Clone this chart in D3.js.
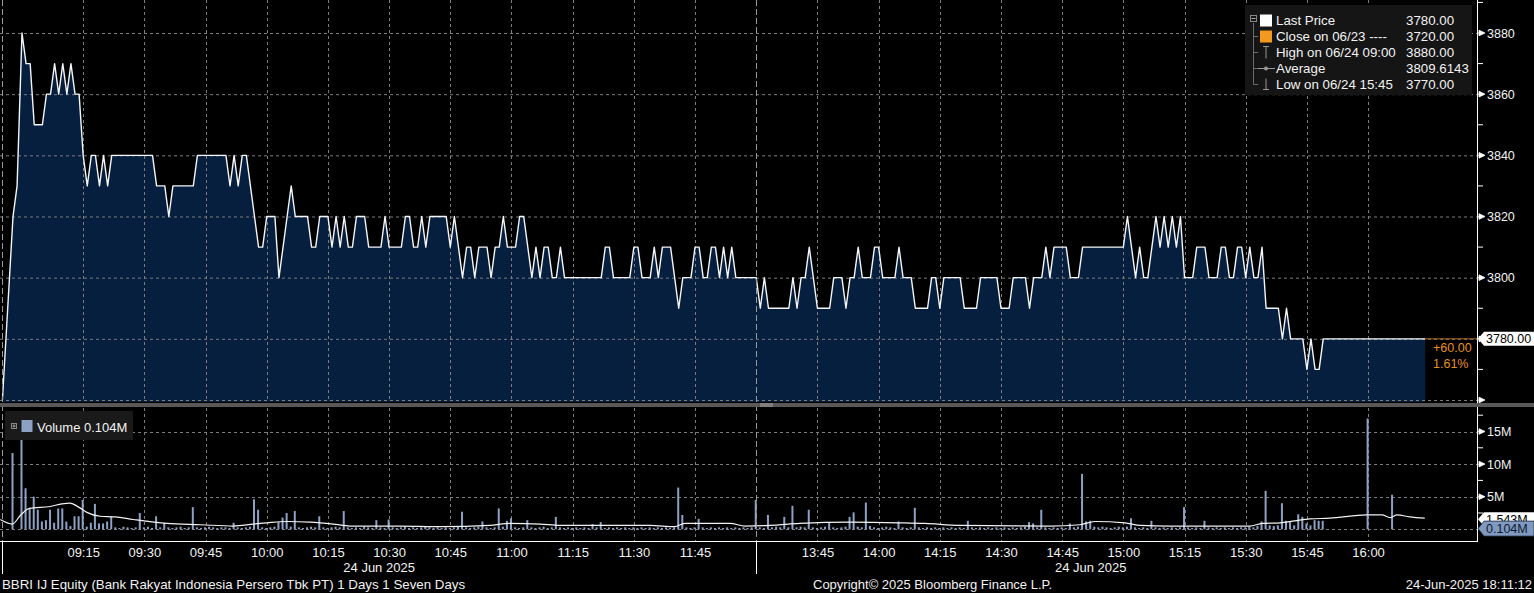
<!DOCTYPE html>
<html><head><meta charset="utf-8">
<script src="https://cdn.jsdelivr.net/npm/d3@7"></script>
<style>html,body{margin:0;padding:0;background:#000;overflow:hidden} svg{display:block}</style>
</head><body>
<svg id="c" width="1534" height="593"></svg>
<script>
// ---------------- DATA ----------------
// trading-minute index: 0 = 09:00, 180 = 12:00 / 13:30 (lunch collapsed), 330 = 16:00
const preOpenIdx   = [-4.8, -2.2, -1.2];
const preOpenPrice = [3760, 3820, 3830];
const price = [
 3880,3870,3870,3850,3850,3850,3860,3860,3870,3860,3870,3860,3870,3860,3860,
 3840,3830,3840,3840,3830,3840,3830,3840,3840,3840,3840,3840,3840,3840,3840,
 3840,3840,3840,3830,3830,3830,3820,3830,3830,3830,3830,3830,3830,3840,3840,
 3840,3840,3840,3840,3840,3840,3830,3840,3830,3840,3840,3830,3820,3810,3810,
 3820,3820,3820,3800,3810,3820,3830,3820,3820,3820,3820,3810,3810,3820,3820,
 3820,3810,3820,3810,3820,3810,3810,3820,3820,3820,3810,3810,3810,3810,3820,
 3810,3810,3810,3810,3820,3820,3810,3810,3820,3810,3820,3820,3820,3820,3820,
 3810,3820,3810,3800,3810,3810,3800,3810,3810,3810,3800,3810,3810,3820,3810,
 3810,3810,3820,3820,3810,3800,3810,3800,3810,3810,3800,3800,3810,3800,3800,
 3800,3800,3800,3800,3800,3800,3800,3800,3810,3810,3800,3800,3800,3800,3800,
 3810,3810,3800,3800,3800,3810,3800,3810,3810,3810,3800,3790,3800,3800,3800,
 3810,3810,3800,3800,3810,3810,3800,3810,3800,3810,3800,3800,3800,3800,3800,
 3800,3790,3800,3790,3790,3790,3790,3790,3790,3800,3790,3800,3800,3810,3800,
 3790,3790,3790,3790,3800,3800,3800,3790,3800,3800,3810,3800,3800,3800,3810,
 3810,3800,3800,3800,3800,3810,3800,3800,3800,3790,3790,3790,3790,3800,3800,
 3790,3800,3800,3800,3800,3800,3790,3790,3790,3790,3800,3800,3800,3800,3800,
 3790,3790,3790,3800,3800,3800,3800,3790,3800,3800,3800,3810,3800,3810,3810,
 3810,3810,3800,3800,3800,3810,3810,3810,3810,3810,3810,3810,3810,3810,3810,
 3810,3820,3810,3800,3810,3800,3800,3810,3820,3810,3820,3810,3820,3810,3820,
 3800,3800,3800,3810,3810,3810,3800,3800,3800,3810,3810,3800,3800,3810,3810,
 3800,3810,3800,3800,3810,3790,3790,3790,3790,3780,3790,3780,3780,3780,3780,
 3770,3780,3770,3770,3780,3780,3780,3780,3780,3780,3780,3780,3780,3780,3780,
 3780,3780,3780,3780,3780,3780,3780,3780,3780,3780,3780,3780,3780,3780,3780
];
// volume in millions of shares per minute
const volPreIdx = [-2.2];
const volPre    = [11.7];
const volume = [
 17.8,6.3,3.2,5.0,3.0,1.2,1.4,3.0,1.0,3.2,3.2,1.2,0.5,2.0,2.0,
 4.5,0.4,1.0,3.9,0.9,0.9,1.2,2.0,0.3,0.2,0.4,0.3,0.2,0.3,2.5,
 0.3,0.4,0.2,2.0,0.3,1.0,0.3,0.2,0.3,0.4,0.2,0.3,3.4,0.3,0.2,
 0.3,0.4,0.3,0.2,0.3,0.3,0.2,1.0,0.3,0.2,0.3,0.4,4.6,3.0,0.3,
 0.2,0.3,0.4,1.1,1.8,2.5,0.4,2.8,0.3,0.2,0.3,0.4,0.3,2.0,0.3,
 0.2,0.3,0.4,0.3,2.8,0.3,0.2,0.3,0.2,0.4,0.3,0.2,1.4,0.3,0.2,
 1.5,0.3,0.2,0.3,0.4,0.2,0.3,0.2,0.3,0.4,0.3,0.2,0.3,0.2,0.3,
 0.2,0.3,0.4,2.7,0.3,0.2,0.3,0.4,1.2,0.3,0.2,0.3,3.2,0.4,1.3,
 1.7,0.3,0.2,0.3,1.4,0.3,0.2,0.3,0.4,0.2,0.3,1.9,0.3,0.2,0.3,
 0.2,0.3,0.2,0.3,0.2,0.8,0.3,1.1,0.2,0.3,0.2,0.3,0.2,0.3,0.2,
 0.3,0.2,0.3,0.2,0.3,0.2,0.3,0.2,0.3,0.2,0.3,6.4,2.2,0.3,0.2,
 0.3,1.6,0.3,0.2,0.3,0.2,0.3,0.2,0.3,0.2,0.3,0.2,0.3,0.2,0.3,
 4.5,0.3,0.2,2.2,0.3,0.4,0.3,1.9,0.3,3.6,0.3,0.4,0.3,3.0,0.3,
 0.2,0.3,0.4,1.1,0.3,0.2,0.3,0.4,1.9,2.6,0.4,0.3,4.1,0.5,0.3,
 0.2,0.3,0.4,0.3,0.2,1.2,0.3,0.2,0.3,3.3,0.3,0.2,0.3,0.2,0.3,
 0.2,0.3,0.2,0.3,0.2,0.3,0.2,1.3,0.3,0.2,0.3,0.2,0.3,0.2,0.3,
 0.2,0.3,0.2,0.3,0.2,0.3,0.4,1.1,0.9,0.3,3.0,0.3,0.2,0.3,0.2,
 0.3,0.2,0.9,0.3,0.4,8.5,1.2,1.3,0.4,0.3,0.4,0.3,0.2,0.3,0.4,
 0.3,0.4,1.7,0.3,0.2,0.3,0.2,1.3,0.3,0.2,0.3,0.2,0.3,0.2,0.3,
 3.4,0.3,0.2,0.3,0.2,1.3,0.3,0.2,0.3,0.2,0.3,0.2,0.3,0.2,0.3,
 0.3,0.4,0.3,0.5,1.2,5.9,0.6,0.5,0.6,4.0,1.3,1.1,0.6,2.3,1.9,
 0.9,0.6,1.4,1.3,1.3,0,0,0,0,0,0,0,0,0,0,
 17.0,0,0,0,0,0,5.3,0,0,0,0,0,0,0,0
];
// volume moving-average line (millions)
const avgIdx = [-5.3,-2.4,-0.3,1.8,6.9,9.8,11.8,13.9,15.9,19.2,22.8,27.3,35.5,43.7,51.8,56.7,60.1,65.0,70.6,76.3,80.4,92.7,102.5,114.7,119.7,127.0,131.9,153.9,160.0,162.5,173.6,177.3,183.4,190.7,203.0,215.2,221.4,229.9,252.0,259.4,263.0,270.4,274.1,281.4,301.0,304.0,308.4,312.0,315.7,320.6,329.7,333.4,335.4,337.1,340.2,343.9];
const avgVal = [1.5,0.8,2.2,3.2,3.5,3.9,4.0,3.4,2.6,2.0,1.9,1.5,0.9,0.7,0.5,0.8,1.0,1.2,1.1,0.8,0.5,0.5,0.4,0.6,0.9,0.8,0.6,0.6,0.4,0.9,0.9,0.5,0.6,0.9,1.1,1.0,0.9,0.6,0.5,0.7,1.2,1.0,0.6,0.5,0.5,0.9,1.0,1.3,1.6,1.7,2.2,2.2,1.8,2.2,1.9,1.7];

const timeLabels = ["09:15","09:30","09:45","10:00","10:15","10:30","10:45","11:00","11:15","11:30","11:45",
                    "13:45","14:00","14:15","14:30","14:45","15:00","15:15","15:30","15:45","16:00"];
const timeIdx    = [15,30,45,60,75,90,105,120,135,150,165,195,210,225,240,255,270,285,300,315,330];
const sessionBreakIdx = [-4.9, 180];
const priceGrid   = [3760,3780,3800,3820,3840,3860,3880];
const priceLabels = [3800,3820,3840,3860,3880];
const priceMinor  = [3770,3790,3810,3830,3850,3870,3890];
const volGrid     = [0,5,10,15];
const volLabels   = [5,10,15];
const volMinor    = [2.5,7.5,12.5,17.5];
const lastPrice = 3780, avgVolume = 1.543, lastVolume = 0.104;
const legendNames  = ["Last Price","Close on 06/23 ----","High on 06/24 09:00","Average","Low on 06/24 15:45"];
const legendValues = ["3780.00","3720.00","3880.00","3809.6143","3770.00"];

// ---------------- CHART ----------------
const FONT = "'Liberation Sans', Arial, sans-serif";
const svg = d3.select("#c").style("font-family", FONT);
svg.append("rect").attr("width",1534).attr("height",593).attr("fill","#000");

const x  = d3.scaleLinear().domain([-4.9, 356.7]).range([2, 1477]);
const yP = d3.scaleLinear().domain([3760, 3880]).range([400, 33]);
const yV = d3.scaleLinear().domain([0, 15]).range([529.3, 431.5]);
const AX = 1477;
const GRID = "#7c7c7c";

const defs = svg.append("defs");
defs.append("clipPath").attr("id","cp").append("rect").attr("x",0).attr("y",0).attr("width",AX).attr("height",402);
defs.append("clipPath").attr("id","cv").append("rect").attr("x",0).attr("y",408).attr("width",AX).attr("height",133);

// price data
const pts = preOpenIdx.map((t,k)=>({t, v:preOpenPrice[k]})).concat(price.map((v,i)=>({t:i, v})));
const gP = svg.append("g").attr("clip-path","url(#cp)");
gP.append("path").datum(pts)
  .attr("d", d3.area().x(d=>x(d.t)).y0(402).y1(d=>yP(d.v)))
  .attr("fill","#061f3e");

// price grid
gP.selectAll(".hg").data(priceGrid).join("line")
  .attr("x1",0).attr("x2",AX).attr("y1",d=>yP(d)+0.5).attr("y2",d=>yP(d)+0.5)
  .attr("stroke",GRID).attr("stroke-dasharray","3,3");
gP.selectAll(".vg").data(timeIdx).join("line")
  .attr("x1",d=>Math.round(x(d))+0.5).attr("x2",d=>Math.round(x(d))+0.5).attr("y1",0).attr("y2",402)
  .attr("stroke",GRID).attr("stroke-dasharray","3,3");

gP.append("path").datum(pts)
  .attr("d", d3.line().x(d=>x(d.t)).y(d=>yP(d.v)))
  .attr("fill","none").attr("stroke","#f4f6fa").attr("stroke-width",1.4).attr("stroke-linejoin","round");

// last price extension to axis
const lastT = price.length - 1;
svg.append("line").attr("x1",x(lastT)).attr("x2",AX).attr("y1",yP(lastPrice)).attr("y2",yP(lastPrice))
  .attr("stroke","#b07026").attr("stroke-width",1);
svg.append("text").attr("x",1433).attr("y",352).attr("fill","#e8901f").attr("font-size",12.5).text("+60.00");
svg.append("text").attr("x",1433).attr("y",368).attr("fill","#e8901f").attr("font-size",12.5).text("1.61%");

// volume panel grid
const gV = svg.append("g").attr("clip-path","url(#cv)");
gV.selectAll(".hg").data(volGrid).join("line")
  .attr("x1",0).attr("x2",AX).attr("y1",d=>Math.round(yV(d))+0.5).attr("y2",d=>Math.round(yV(d))+0.5)
  .attr("stroke",GRID).attr("stroke-dasharray","3,3");
gV.selectAll(".vg").data(timeIdx).join("line")
  .attr("x1",d=>Math.round(x(d))+0.5).attr("x2",d=>Math.round(x(d))+0.5).attr("y1",408).attr("y2",541)
  .attr("stroke",GRID).attr("stroke-dasharray","3,3");

// session break dashed lines
svg.selectAll(".sb").data(sessionBreakIdx).join("line")
  .attr("x1",d=>Math.round(x(d))+0.5).attr("x2",d=>Math.round(x(d))+0.5).attr("y1",0).attr("y2",541)
  .attr("stroke","#9a9a9a").attr("stroke-dasharray","6,3");

// volume legend box (behind bars)
svg.append("rect").attr("x",5).attr("y",411).attr("width",128).attr("height",29).attr("fill","#1a1a1a");

// volume bars
const vb = volPreIdx.map((t,k)=>({t, v:volPre[k]})).concat(volume.map((v,i)=>({t:i, v}))).filter(d=>d.v>0);
gV.selectAll(".vb").data(vb).join("rect")
  .attr("x",d=>x(d.t)-1.5).attr("width",2)
  .attr("y",d=>yV(d.v)).attr("height",d=>yV(0)-yV(d.v))
  .attr("fill","#8ca1c4");
// average line
gV.append("path").datum(avgIdx.map((t,k)=>({t, v:avgVal[k]})))
  .attr("d", d3.line().x(d=>x(d.t)).y(d=>yV(d.v)).curve(d3.curveMonotoneX))
  .attr("fill","none").attr("stroke","#f2f2f2").attr("stroke-width",1.2);

// volume legend contents
svg.append("rect").attr("x",11.5).attr("y",423.5).attr("width",5).attr("height",5).attr("fill","none").attr("stroke","#888");
svg.append("line").attr("x1",12.5).attr("x2",15.5).attr("y1",426).attr("y2",426).attr("stroke","#aaa");
svg.append("line").attr("x1",14).attr("x2",14).attr("y1",424.5).attr("y2",427.5).attr("stroke","#aaa");
svg.append("rect").attr("x",21.5).attr("y",420).attr("width",11).attr("height",12).attr("fill","#8ca1c4");
svg.append("text").attr("x",37).attr("y",431.5).attr("fill","#f2f2f2").attr("font-size",13).text("Volume 0.104M");

// separator band
svg.append("rect").attr("x",0).attr("y",403).attr("width",1534).attr("height",4).attr("fill","#585858");
svg.append("line").attr("x1",760).attr("x2",773).attr("y1",404).attr("y2",404).attr("stroke","#bbb").attr("stroke-width",0.8);
svg.append("line").attr("x1",760).attr("x2",773).attr("y1",406).attr("y2",406).attr("stroke","#bbb").attr("stroke-width",0.8);

// right axis lines
svg.append("line").attr("x1",AX+0.5).attr("x2",AX+0.5).attr("y1",0).attr("y2",403).attr("stroke","#fff");
svg.append("line").attr("x1",AX+0.5).attr("x2",AX+0.5).attr("y1",407).attr("y2",541).attr("stroke","#fff");

function arrow(g, yy){
  g.append("path").attr("d",`M${AX},${yy}H${AX+3}M${AX+2},${yy-2.8}L${AX+8},${yy}L${AX+2},${yy+2.8}Z`)
   .attr("fill","#fff").attr("stroke","#fff").attr("stroke-width",0.8);
}
const gA = svg.append("g");
priceGrid.forEach(v=>arrow(gA, yP(v)));
volGrid.filter(v=>v>0).forEach(v=>arrow(gA, yV(v)));
gA.selectAll(".mn").data(priceMinor).join("line")
  .attr("x1",AX).attr("x2",AX+6).attr("y1",d=>yP(d)).attr("y2",d=>yP(d)).attr("stroke","#fff");
gA.selectAll(".mv").data(volMinor).join("line")
  .attr("x1",AX).attr("x2",AX+6).attr("y1",d=>yV(d)).attr("y2",d=>yV(d)).attr("stroke","#fff");
gA.selectAll(".pl").data(priceLabels).join("text")
  .attr("x",1487).attr("y",d=>yP(d)+4.6).attr("fill","#f2f2f2").attr("font-size",12.5).text(d=>d);
gA.selectAll(".vl").data(volLabels).join("text")
  .attr("x",1487).attr("y",d=>yV(d)+4.6).attr("fill","#f2f2f2").attr("font-size",12.5).text(d=>d+"M");

// last price box
const ly = yP(lastPrice);
svg.append("path").attr("d",`M${AX+1},${ly}L${AX+7},${ly-7}H1534V${ly+7}H${AX+7}Z`).attr("fill","#fff");
svg.append("text").attr("x",1486).attr("y",ly+4.6).attr("fill","#000").attr("font-size",12.5).text(d3.format(".2f")(lastPrice));
// volume value boxes (average box sits partly behind the last-volume box, as in the original)
const ay = yV(avgVolume), vy = yV(lastVolume);
svg.append("path").attr("d",`M${AX+1},${ay}L${AX+7},${ay-7}H1534V${ay+7}H${AX+7}Z`).attr("fill","#fff");
svg.append("text").attr("x",1486).attr("y",ay+4.6).attr("fill","#000").attr("font-size",12.5).text(avgVolume.toFixed(3)+"M");
svg.append("path").attr("d",`M${AX+1},${vy}L${AX+7},${vy-7.5}H1534V${vy+7.5}H${AX+7}Z`).attr("fill","#8199be")
  .attr("stroke","#1b2c48").attr("stroke-width",0.8);
svg.append("text").attr("x",1486).attr("y",vy+4.6).attr("fill","#0b1a33").attr("font-size",12.5).text(lastVolume.toFixed(3)+"M");

// bottom axis
svg.append("line").attr("x1",0).attr("x2",AX+1).attr("y1",541.5).attr("y2",541.5).attr("stroke","#fff");
svg.selectAll(".sbt").data(sessionBreakIdx).join("line")
  .attr("x1",d=>Math.round(x(d))+0.5).attr("x2",d=>Math.round(x(d))+0.5).attr("y1",541).attr("y2",574)
  .attr("stroke","#fff");
const xAxis = d3.axisBottom(x).tickValues(timeIdx).tickFormat((d,i)=>timeLabels[i]).tickSize(0);
const gx = svg.append("g").attr("transform","translate(0,541)").call(xAxis);
gx.select(".domain").remove();
gx.selectAll("text").attr("y",15.5).attr("dy",null).attr("fill","#f2f2f2").attr("font-size",13).attr("font-family",FONT);
const dayCenters = [(x(-4.9)+x(180))/2, (x(180)+x(price.length-1))/2];
svg.selectAll(".day").data(dayCenters).join("text")
  .attr("x",d=>d).attr("y",571.5).attr("text-anchor","middle").attr("fill","#f2f2f2").attr("font-size",13).text("24 Jun 2025");

// footer
svg.append("text").attr("x",2).attr("y",589).attr("fill","#f2f2f2").attr("font-size",13.3)
  .text("BBRI IJ Equity (Bank Rakyat Indonesia Persero Tbk PT) 1 Days 1 Seven Days");
svg.append("text").attr("x",813).attr("y",589).attr("fill","#f2f2f2").attr("font-size",13)
  .text("Copyright\u00A9 2025 Bloomberg Finance L.P.");
svg.append("text").attr("x",1532).attr("y",589).attr("text-anchor","end").attr("fill","#f2f2f2").attr("font-size",13)
  .text("24-Jun-2025 18:11:12");

// price legend
const lg = svg.append("g");
lg.append("rect").attr("x",1245).attr("y",5).attr("width",227).attr("height",90).attr("fill","#151515");
const rowY = d3.range(legendNames.length).map(k=>20.5+k*16);
lg.append("line").attr("x1",1253.5).attr("x2",1253.5).attr("y1",23).attr("y2",rowY[4]).attr("stroke","#6a6a6a");
rowY.slice(1).forEach(yy=>lg.append("line").attr("x1",1253.5).attr("x2",1258).attr("y1",yy).attr("y2",yy).attr("stroke","#6a6a6a"));
lg.append("rect").attr("x",1250.5).attr("y",15.5).attr("width",6).attr("height",6).attr("fill","none").attr("stroke","#888");
lg.append("line").attr("x1",1251.5).attr("x2",1255.5).attr("y1",18.5).attr("y2",18.5).attr("stroke","#aaa");
lg.append("rect").attr("x",1260).attr("y",rowY[0]-6).attr("width",12).attr("height",12).attr("fill","#fff");
lg.append("rect").attr("x",1260).attr("y",rowY[1]-6).attr("width",12).attr("height",12).attr("fill","#f39a1e");
lg.append("path").attr("d",`M1263,${rowY[2]-6}H1269M1266,${rowY[2]-6}V${rowY[2]+6}`).attr("stroke","#999").attr("fill","none");
lg.append("line").attr("x1",1258).attr("x2",1275).attr("y1",rowY[3]).attr("y2",rowY[3]).attr("stroke","#999");
lg.append("circle").attr("cx",1266).attr("cy",rowY[3]).attr("r",2).attr("fill","#999");
lg.append("path").attr("d",`M1266,${rowY[4]-6}V${rowY[4]+5}M1263,${rowY[4]+5}H1269`).attr("stroke","#999").attr("fill","none");
lg.selectAll(".ln").data(legendNames).join("text")
  .attr("x",1276).attr("y",(d,k)=>rowY[k]+4.6).attr("fill","#f2f2f2").attr("font-size",13.3).text(d=>d);
lg.selectAll(".lv").data(legendValues).join("text")
  .attr("x",1406).attr("y",(d,k)=>rowY[k]+4.6).attr("fill","#f2f2f2").attr("font-size",13.3).text(d=>d);
</script>
</body></html>
